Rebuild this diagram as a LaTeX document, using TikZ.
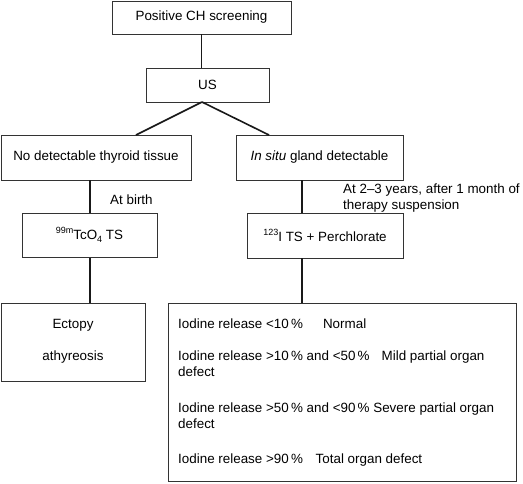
\documentclass[tikz,border=0pt]{standalone}
\usepackage{fontspec}
\setmainfont{Liberation Sans}
\newcommand\mysup[1]{\raisebox{0.42em}{\fontsize{9}{9}\selectfont #1}}
\newcommand\mysub[1]{\raisebox{-0.22em}{\fontsize{9}{9}\selectfont #1}}
\begin{document}
\begin{tikzpicture}[x=1pt,y=-1pt,
  every node/.style={font=\fontsize{13.4}{16}\selectfont},
  box/.style={draw=black!80, line width=0.9pt, inner sep=0pt, align=center},
  conn/.style={line width=1.6pt, black!90}]
\useasboundingbox (0,0) rectangle (523,483);
% boxes
\node[box, minimum width=179pt, minimum height=33pt] (pos) at (201.5,17.5) {Positive CH screening};
\node[box, minimum width=123pt, minimum height=34pt] (us) at (207.5,85) {US};
\node[box, minimum width=190pt, minimum height=45pt] (nodet) at (96,157.5) {No detectable thyroid tissue};
\node[box, minimum width=167pt, minimum height=45pt] (insitu) at (319.5,157.5) {\textit{In situ} gland detectable};
\node[box, minimum width=135pt, minimum height=44pt] (tc) at (89.5,235) {\mysup{99m}TcO\mysub{4} TS};
\node[box, minimum width=156pt, minimum height=45pt] (iod) at (325,235.5) {\mysup{123}I TS + Perchlorate};
\node[box, minimum width=144pt, minimum height=78pt, anchor=north west] (ect) at (1,303) {};
\node[anchor=base] (ecttxt) at (73,328) {Ectopy};
\node[anchor=base] (athtxt) at (73,360) {athyreosis};
\node[box, minimum width=348pt, minimum height=178pt, anchor=north west] (res) at (168,303) {};
\node[anchor=base west, align=left, inner sep=0pt] (restxt) at (178,463) {%
Iodine release {<}10\,\%\hspace{1.5em}Normal\\[16pt]
Iodine release {>}10\,\% and {<}50\,\%\hspace{0.9em}Mild partial organ\\
defect\\[20pt]
Iodine release {>}50\,\% and {<}90\,\% Severe partial organ\\
defect\\[19pt]
Iodine release {>}90\,\%\hspace{0.95em}Total organ defect};
% labels
\node[anchor=base west, inner sep=0pt] (birth) at (110,204) {At birth};
\node[anchor=base west, align=left, inner sep=0pt] (years) at (343,209) {At 2--3 years, after 1 month of\\therapy suspension};
% connectors
\draw[conn] (pos.south) -- (us.north -| pos.south);
\coordinate (usb) at (202,102);
\draw[conn] (usb) -- (136,135);
\draw[conn] (usb) -- (269,135);
\draw[conn] (90,180) -- (90,213);
\draw[conn] (302,180) -- (302,213);
\draw[conn] (90,258) -- (90,303);
\draw[conn] (302,258) -- (302,303);
\end{tikzpicture}
\end{document}
